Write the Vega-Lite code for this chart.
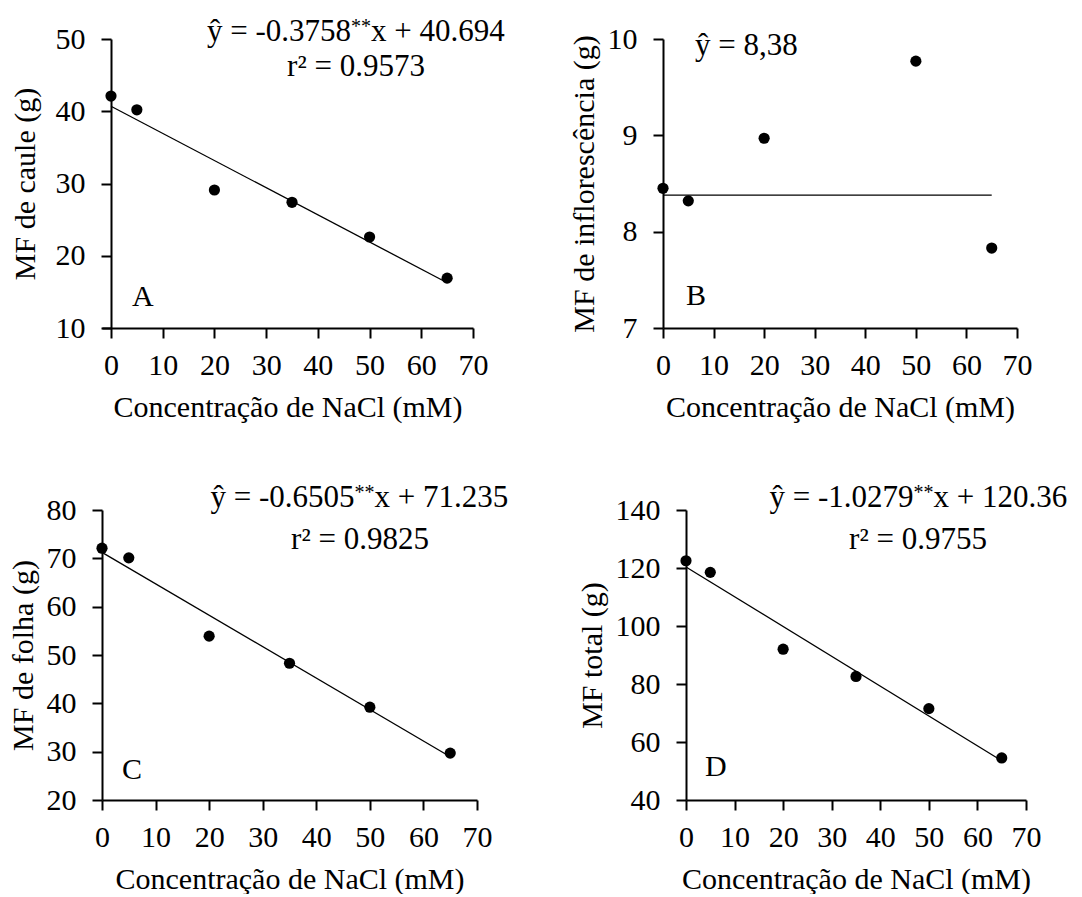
{
  "$schema": "https://vega.github.io/schema/vega-lite/v6.json",
  "background": "white",
  "padding": {"left": 8, "top": 15, "right": 0, "bottom": 0},
  "config": {
    "font": "Liberation Serif",
    "view": {"stroke": null},
    "axis": {
      "labelFont": "Liberation Serif",
      "titleFont": "Liberation Serif",
      "labelFontSize": 30,
      "titleFontSize": 30,
      "titleFontWeight": "normal",
      "labelColor": "black",
      "titleColor": "black",
      "domainColor": "black",
      "tickColor": "black",
      "domainWidth": 2,
      "tickWidth": 2,
      "tickSize": 10,
      "grid": false,
      "labelFlush": false,
      "labelOverlap": false
    },
    "axisX": {"labelPadding": 12, "titlePadding": 12},
    "axisY": {"labelPadding": 16, "titlePadding": 8},
    "text": {"font": "Liberation Serif", "fontSize": 30, "color": "black"}
  },
  "datasets": {
    "pts": [
      {"p": "A", "x": 0, "y": 42.1}, {"p": "A", "x": 5, "y": 40.2}, {"p": "A", "x": 20, "y": 29.1},
      {"p": "A", "x": 35, "y": 27.4}, {"p": "A", "x": 50, "y": 22.6}, {"p": "A", "x": 65, "y": 16.9},
      {"p": "B", "x": 0, "y": 8.45}, {"p": "B", "x": 5, "y": 8.32}, {"p": "B", "x": 20, "y": 8.97},
      {"p": "B", "x": 50, "y": 9.77}, {"p": "B", "x": 65, "y": 7.83},
      {"p": "C", "x": 0, "y": 72.1}, {"p": "C", "x": 5, "y": 70.1}, {"p": "C", "x": 20, "y": 53.9},
      {"p": "C", "x": 35, "y": 48.3}, {"p": "C", "x": 50, "y": 39.2}, {"p": "C", "x": 65, "y": 29.7},
      {"p": "D", "x": 0, "y": 122.5}, {"p": "D", "x": 5, "y": 118.5}, {"p": "D", "x": 20, "y": 92.0},
      {"p": "D", "x": 35, "y": 82.6}, {"p": "D", "x": 50, "y": 71.5}, {"p": "D", "x": 65, "y": 54.5}
    ],
    "fit": [
      {"p": "A", "x": 0, "y": 40.694}, {"p": "A", "x": 65, "y": 16.267},
      {"p": "B", "x": 0, "y": 8.38}, {"p": "B", "x": 65, "y": 8.38},
      {"p": "C", "x": 0, "y": 71.235}, {"p": "C", "x": 65, "y": 28.952},
      {"p": "D", "x": 0, "y": 120.36}, {"p": "D", "x": 65, "y": 53.546}
    ],
    "ann": [
      {"p": "A", "k": "eqa", "x": 46.41, "y": 49.79, "t": "ŷ = -0.3758"},
      {"p": "A", "k": "star", "x": 46.41, "y": 49.79, "t": "**"},
      {"p": "A", "k": "eqb", "x": 46.41, "y": 49.79, "t": "x + 40.694"},
      {"p": "A", "k": "r2", "x": 47.38, "y": 44.88, "t": "r² = 0.9573"},
      {"p": "A", "k": "lab", "x": 4.06, "y": 13.04, "t": "A"},
      {"p": "B", "k": "eqL", "x": 6.33, "y": 9.834, "t": "ŷ = 8,38"},
      {"p": "B", "k": "lab", "x": 4.55, "y": 7.239, "t": "B"},
      {"p": "C", "k": "eqa", "x": 47.15, "y": 80.62, "t": "ŷ = -0.6505"},
      {"p": "C", "k": "star", "x": 47.15, "y": 80.62, "t": "**"},
      {"p": "C", "k": "eqb", "x": 47.15, "y": 80.62, "t": "x + 71.235"},
      {"p": "C", "k": "r2", "x": 48.16, "y": 71.93, "t": "r² = 0.9825"},
      {"p": "C", "k": "lab", "x": 3.73, "y": 24.34, "t": "C"},
      {"p": "D", "k": "eqa", "x": 46.86, "y": 141.03, "t": "ŷ = -1.0279"},
      {"p": "D", "k": "star", "x": 46.86, "y": 141.03, "t": "**"},
      {"p": "D", "k": "eqb", "x": 46.86, "y": 141.03, "t": "x + 120.36"},
      {"p": "D", "k": "r2", "x": 47.77, "y": 126.55, "t": "r² = 0.9755"},
      {"p": "D", "k": "lab", "x": 3.91, "y": 48.3, "t": "D"}
    ]
  },
  "spacing": 60,
  "vconcat": [
    {
      "spacing": 63,
      "hconcat": [
        {
          "width": 371,
          "height": 289,
          "encoding": {
            "x": {"field": "x", "type": "quantitative", "scale": {"domain": [-1.7405, 70], "nice": false, "zero": false},
                  "axis": {"values": [0, 10, 20, 30, 40, 50, 60, 70], "title": "Concentração de NaCl (mM)"}},
            "y": {"field": "y", "type": "quantitative", "scale": {"domain": [10, 50], "nice": false, "zero": false},
                  "axis": {"values": [10, 20, 30, 40, 50], "title": "MF de caule (g)", "offset": -9, "titlePadding": 15}}
          },
          "layer": [
            {"data": {"name": "fit"}, "transform": [{"filter": "datum.p == 'A'"}], "mark": {"type": "line", "color": "black", "strokeWidth": 1.3}, "encoding": {}},
            {"data": {"name": "pts"}, "transform": [{"filter": "datum.p == 'A'"}], "mark": {"type": "point", "filled": true, "color": "black", "opacity": 1, "size": 125}},
            {"data": {"name": "ann"}, "transform": [{"filter": "datum.p == 'A' && datum.k == 'eqa'"}], "mark": {"type": "text", "align": "right", "baseline": "alphabetic", "fontSize": 31}, "encoding": {"text": {"field": "t", "type": "nominal"}}},
            {"data": {"name": "ann"}, "transform": [{"filter": "datum.p == 'A' && datum.k == 'star'"}], "mark": {"type": "text", "align": "left", "baseline": "alphabetic", "fontSize": 20, "dy": -8}, "encoding": {"text": {"field": "t", "type": "nominal"}}},
            {"data": {"name": "ann"}, "transform": [{"filter": "datum.p == 'A' && datum.k == 'eqb'"}], "mark": {"type": "text", "align": "left", "baseline": "alphabetic", "fontSize": 31, "dx": 20}, "encoding": {"text": {"field": "t", "type": "nominal"}}},
            {"data": {"name": "ann"}, "transform": [{"filter": "datum.p == 'A' && datum.k == 'r2'"}], "mark": {"type": "text", "align": "center", "baseline": "alphabetic", "fontSize": 31}, "encoding": {"text": {"field": "t", "type": "nominal"}}},
            {"data": {"name": "ann"}, "transform": [{"filter": "datum.p == 'A' && datum.k == 'lab'"}], "mark": {"type": "text", "align": "left", "baseline": "alphabetic", "fontSize": 30}, "encoding": {"text": {"field": "t", "type": "nominal"}}}
          ]
        },
        {
          "width": 354,
          "height": 289,
          "encoding": {
            "x": {"field": "x", "type": "quantitative", "scale": {"domain": [0, 70], "nice": false, "zero": false},
                  "axis": {"values": [0, 10, 20, 30, 40, 50, 60, 70], "title": "Concentração de NaCl (mM)"}},
            "y": {"field": "y", "type": "quantitative", "scale": {"domain": [7, 10], "nice": false, "zero": false},
                  "axis": {"values": [7, 8, 9, 10], "title": "MF de inflorescência (g)"}}
          },
          "layer": [
            {"data": {"name": "fit"}, "transform": [{"filter": "datum.p == 'B'"}], "mark": {"type": "line", "color": "black", "strokeWidth": 1.3}, "encoding": {}},
            {"data": {"name": "pts"}, "transform": [{"filter": "datum.p == 'B'"}], "mark": {"type": "point", "filled": true, "color": "black", "opacity": 1, "size": 125}},
            {"data": {"name": "ann"}, "transform": [{"filter": "datum.p == 'B' && datum.k == 'eqL'"}], "mark": {"type": "text", "align": "left", "baseline": "alphabetic", "fontSize": 31}, "encoding": {"text": {"field": "t", "type": "nominal"}}},
            {"data": {"name": "ann"}, "transform": [{"filter": "datum.p == 'B' && datum.k == 'lab'"}], "mark": {"type": "text", "align": "left", "baseline": "alphabetic", "fontSize": 30}, "encoding": {"text": {"field": "t", "type": "nominal"}}}
          ]
        }
      ]
    },
    {
      "spacing": 68,
      "hconcat": [
        {
          "width": 375,
          "height": 290,
          "encoding": {
            "x": {"field": "x", "type": "quantitative", "scale": {"domain": [0, 70], "nice": false, "zero": false},
                  "axis": {"values": [0, 10, 20, 30, 40, 50, 60, 70], "title": "Concentração de NaCl (mM)"}},
            "y": {"field": "y", "type": "quantitative", "scale": {"domain": [20, 80], "nice": false, "zero": false},
                  "axis": {"values": [20, 30, 40, 50, 60, 70, 80], "title": "MF de folha (g)"}}
          },
          "layer": [
            {"data": {"name": "fit"}, "transform": [{"filter": "datum.p == 'C'"}], "mark": {"type": "line", "color": "black", "strokeWidth": 1.3}, "encoding": {}},
            {"data": {"name": "pts"}, "transform": [{"filter": "datum.p == 'C'"}], "mark": {"type": "point", "filled": true, "color": "black", "opacity": 1, "size": 125}},
            {"data": {"name": "ann"}, "transform": [{"filter": "datum.p == 'C' && datum.k == 'eqa'"}], "mark": {"type": "text", "align": "right", "baseline": "alphabetic", "fontSize": 31}, "encoding": {"text": {"field": "t", "type": "nominal"}}},
            {"data": {"name": "ann"}, "transform": [{"filter": "datum.p == 'C' && datum.k == 'star'"}], "mark": {"type": "text", "align": "left", "baseline": "alphabetic", "fontSize": 20, "dy": -8}, "encoding": {"text": {"field": "t", "type": "nominal"}}},
            {"data": {"name": "ann"}, "transform": [{"filter": "datum.p == 'C' && datum.k == 'eqb'"}], "mark": {"type": "text", "align": "left", "baseline": "alphabetic", "fontSize": 31, "dx": 20}, "encoding": {"text": {"field": "t", "type": "nominal"}}},
            {"data": {"name": "ann"}, "transform": [{"filter": "datum.p == 'C' && datum.k == 'r2'"}], "mark": {"type": "text", "align": "center", "baseline": "alphabetic", "fontSize": 31}, "encoding": {"text": {"field": "t", "type": "nominal"}}},
            {"data": {"name": "ann"}, "transform": [{"filter": "datum.p == 'C' && datum.k == 'lab'"}], "mark": {"type": "text", "align": "left", "baseline": "alphabetic", "fontSize": 30}, "encoding": {"text": {"field": "t", "type": "nominal"}}}
          ]
        },
        {
          "width": 340,
          "height": 290,
          "encoding": {
            "x": {"field": "x", "type": "quantitative", "scale": {"domain": [0, 70], "nice": false, "zero": false},
                  "axis": {"values": [0, 10, 20, 30, 40, 50, 60, 70], "title": "Concentração de NaCl (mM)"}},
            "y": {"field": "y", "type": "quantitative", "scale": {"domain": [40, 140], "nice": false, "zero": false},
                  "axis": {"values": [40, 60, 80, 100, 120, 140], "title": "MF total (g)"}}
          },
          "layer": [
            {"data": {"name": "fit"}, "transform": [{"filter": "datum.p == 'D'"}], "mark": {"type": "line", "color": "black", "strokeWidth": 1.3}, "encoding": {}},
            {"data": {"name": "pts"}, "transform": [{"filter": "datum.p == 'D'"}], "mark": {"type": "point", "filled": true, "color": "black", "opacity": 1, "size": 125}},
            {"data": {"name": "ann"}, "transform": [{"filter": "datum.p == 'D' && datum.k == 'eqa'"}], "mark": {"type": "text", "align": "right", "baseline": "alphabetic", "fontSize": 31}, "encoding": {"text": {"field": "t", "type": "nominal"}}},
            {"data": {"name": "ann"}, "transform": [{"filter": "datum.p == 'D' && datum.k == 'star'"}], "mark": {"type": "text", "align": "left", "baseline": "alphabetic", "fontSize": 20, "dy": -8}, "encoding": {"text": {"field": "t", "type": "nominal"}}},
            {"data": {"name": "ann"}, "transform": [{"filter": "datum.p == 'D' && datum.k == 'eqb'"}], "mark": {"type": "text", "align": "left", "baseline": "alphabetic", "fontSize": 31, "dx": 20}, "encoding": {"text": {"field": "t", "type": "nominal"}}},
            {"data": {"name": "ann"}, "transform": [{"filter": "datum.p == 'D' && datum.k == 'r2'"}], "mark": {"type": "text", "align": "center", "baseline": "alphabetic", "fontSize": 31}, "encoding": {"text": {"field": "t", "type": "nominal"}}},
            {"data": {"name": "ann"}, "transform": [{"filter": "datum.p == 'D' && datum.k == 'lab'"}], "mark": {"type": "text", "align": "left", "baseline": "alphabetic", "fontSize": 30}, "encoding": {"text": {"field": "t", "type": "nominal"}}}
          ]
        }
      ]
    }
  ]
}
